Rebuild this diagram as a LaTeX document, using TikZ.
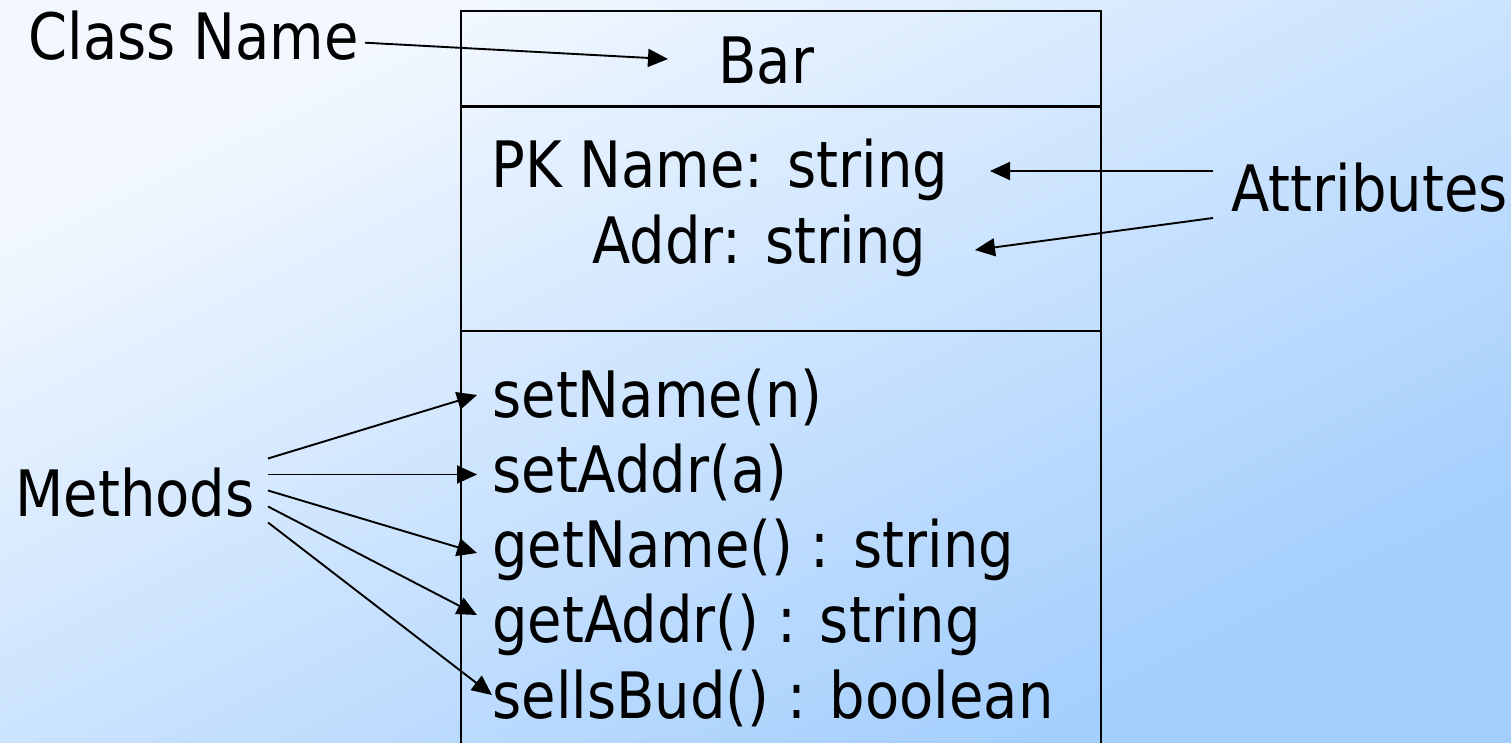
\documentclass[tikz,border=0pt]{standalone}
\usepackage{fontspec}
\setmainfont{DejaVu Sans}[FakeStretch=0.875]
\usetikzlibrary{arrows.meta}
\definecolor{bgA}{RGB}{243,248,255}
\definecolor{bgB}{RGB}{163,206,253}
\begin{document}
\begin{tikzpicture}[x=0.5pt,y=-0.5pt,
  lbl/.style={anchor=base west, inner sep=0pt, font=\fontsize{32}{38}\selectfont},
  conn/.style={line width=0.95pt, -{Triangle[length=10pt,width=9pt]}},
  frame/.style={line width=1.2pt}]
\useasboundingbox (0,0) rectangle (1511,743);
\clip (0,0) rectangle (1511,743);
\begin{scope}[transform canvas={xscale=2.03365}]
  \shade[top color=bgA, bottom color=bgB, shading angle=45] (0,0) rectangle (743,743);
\end{scope}
% class box
\draw[frame] (461,760) -- (461,11) -- (1101,11) -- (1101,760);
\draw[frame] (461,106.7) -- (1101,106.7);
\draw[frame] (461,331) -- (1101,331);
% texts
\node[lbl] (cn)    at (28,60)     {Class Name};
\node[lbl] (bar)   at (718,84)    {Bar};
\node[lbl] (pk)    at (491,187.5) {PK Name: string};
\node[lbl] (addr)  at (592,263.3) {Addr: string};
\node[lbl] (attr)  at (1231,212)  {Attributes};
\node[lbl] (meth)  at (15,516)    {Methods};
\node[lbl] (m1)    at (492,417.3) {setName(n)};
\node[lbl] (m2)    at (492,492.5) {setAddr(a)};
\node[lbl] (m3)    at (492,567.7) {getName() : string};
\node[lbl] (m4)    at (492,642.9) {getAddr() : string};
\node[lbl] (m5)    at (492,718.1) {sellsBud() : boolean};
% connector end points
\coordinate (cnS) at (365,42.7);
\coordinate (cnT) at (668,59);
\coordinate (aS1) at (1213,171);
\coordinate (aT1) at (990,171);
\coordinate (aS2) at (1213,218);
\coordinate (aT2) at (975,250);
\coordinate (mS1) at (268,458.5);
\coordinate (mS2) at (268,474.5);
\coordinate (mS3) at (268,490.5);
\coordinate (mS4) at (268,506.5);
\coordinate (mS5) at (268,522.5);
\coordinate (mT1) at (477,395);
\coordinate (mT2) at (477,474.5);
\coordinate (mT3) at (477,553);
\coordinate (mT4) at (477,615);
\coordinate (mT5) at (492,695);
% connectors
\draw[conn] (cnS) -- (cnT);
\draw[conn] (aS1) -- (aT1);
\draw[conn] (aS2) -- (aT2);
\draw[conn] (mS1) -- (mT1);
\draw[conn] (mS2) -- (mT2);
\draw[conn] (mS3) -- (mT3);
\draw[conn] (mS4) -- (mT4);
\draw[conn] (mS5) -- (mT5);
\end{tikzpicture}
\end{document}
